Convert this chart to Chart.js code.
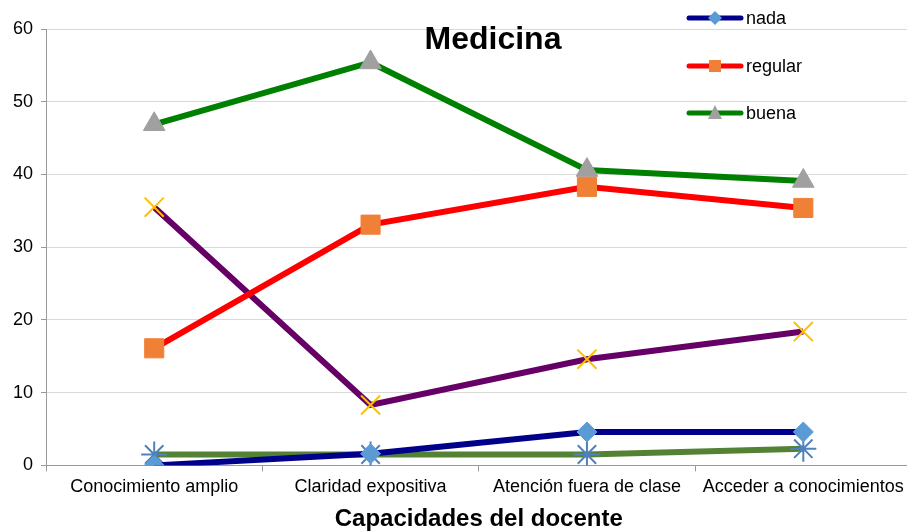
<!DOCTYPE html>
<html>
<head>
<meta charset="utf-8">
<script src="https://cdn.jsdelivr.net/npm/chart.js@4"></script>
<style>
  body { margin: 0; background: #fff; overflow: hidden; }
  #wrap { width: 907px; height: 531px; overflow: hidden; }
</style>
</head>
<body>
<div id="wrap"><canvas id="medChart" width="927" height="531"></canvas></div>
<script>
// categories and values
const categorias = ['Conocimiento amplio', 'Claridad expositiva', 'Atención fuera de clase', 'Acceder a conocimientos'];
const nada = [0, 1.6, 4.6, 4.6];
const regular = [16.1, 33.1, 38.3, 35.4];
const buena = [46.9, 55.4, 40.6, 39.1];
const serie4 = [35.5, 8.3, 14.6, 18.4];
const serie5 = [1.5, 1.5, 1.5, 2.3];
const yTicks = [0, 10, 20, 30, 40, 50, 60];

const FONT = '"Liberation Sans", Arial';
const ctx = document.getElementById('medChart').getContext('2d');

function serie(label, data, line, marker, style, radius) {
    return {
        label: label,
        data: data,
        borderColor: line,
        backgroundColor: marker,
        pointBackgroundColor: marker,
        pointBorderColor: marker,
        pointStyle: style,
        pointRadius: radius,
        pointBorderWidth: style === 'crossRot' || style === 'star' ? 2 : 1,
        borderWidth: 6,
        tension: 0,
        fill: false
    };
}

// title + legend drawn over the plot, like the original
const extras = {
    id: 'extras',
    afterDraw(chart) {
        const c = chart.ctx;
        c.save();
        c.fillStyle = '#000';
        c.font = 'bold 32px ' + FONT;
        c.textAlign = 'center';
        c.textBaseline = 'middle';
        c.fillText('Medicina', 493, 40);

        const items = [
            { text: 'nada', line: '#00008b', fill: '#5b9bd5', y: 18, shape: 'diamond' },
            { text: 'regular', line: '#ff0000', fill: '#f08035', y: 66, shape: 'square' },
            { text: 'buena', line: '#008000', fill: '#a0a0a0', y: 113, shape: 'triangle' }
        ];
        c.font = '18px ' + FONT;
        c.textAlign = 'left';
        items.forEach(it => {
            c.strokeStyle = it.line;
            c.lineWidth = 5;
            c.lineCap = 'round';
            c.beginPath();
            c.moveTo(689, it.y);
            c.lineTo(741, it.y);
            c.stroke();
            c.fillStyle = it.fill;
            c.beginPath();
            const x = 715, y = it.y;
            if (it.shape === 'diamond') {
                c.moveTo(x, y - 7); c.lineTo(x + 7, y); c.lineTo(x, y + 7); c.lineTo(x - 7, y);
            } else if (it.shape === 'square') {
                c.rect(x - 6, y - 6, 12, 12);
            } else {
                c.moveTo(x, y - 8); c.lineTo(x + 7, y + 6); c.lineTo(x - 7, y + 6);
            }
            c.closePath();
            c.fill();
            c.fillStyle = '#000';
            c.fillText(it.text, 746, it.y + 1);
        });
        c.restore();
    }
};

new Chart(ctx, {
    type: 'line',
    data: {
        labels: categorias,
        datasets: [
            serie('nada', nada, '#00008b', '#5b9bd5', 'rectRot', 10),
            serie('regular', regular, '#ff0000', '#f08035', 'rect', 13.5),
            serie('buena', buena, '#008000', '#a0a0a0', 'triangle', 12.5),
            serie('serie4', serie4, '#660066', '#ffc000', 'crossRot', 13.5),
            serie('serie5', serie5, '#548235', '#4f81bd', 'star', 13)
        ]
    },
    options: {
        responsive: false,
        animation: false,
        devicePixelRatio: 1,
        layout: { padding: { top: 29, right: 2, left: 5, bottom: 0 } },
        scales: {
            x: {
                offset: true,
                grid: { display: true, offset: true, drawOnChartArea: false, tickLength: 6, color: '#999' },
                border: { color: '#999', width: 1 },
                ticks: { color: '#000', font: { size: 18, family: FONT }, maxRotation: 0, autoSkip: false, padding: 5 },
                title: {
                    display: true,
                    text: 'Capacidades del docente',
                    color: '#000',
                    font: { size: 24, weight: 'bold', family: FONT, lineHeight: 1 },
                    padding: { top: 4, bottom: 0 }
                }
            },
            y: {
                min: 0,
                max: 60,
                afterBuildTicks: axis => { axis.ticks = yTicks.map(v => ({ value: v })); },
                grid: { color: '#d9d9d9', tickLength: 5, tickColor: '#999' },
                border: { color: '#999', width: 1 },
                ticks: { color: '#000', font: { size: 18, family: FONT }, padding: 8 }
            }
        },
        plugins: {
            legend: { display: false },
            title: { display: false },
            tooltip: { enabled: false }
        }
    },
    plugins: [extras]
});
</script>
</body>
</html>
